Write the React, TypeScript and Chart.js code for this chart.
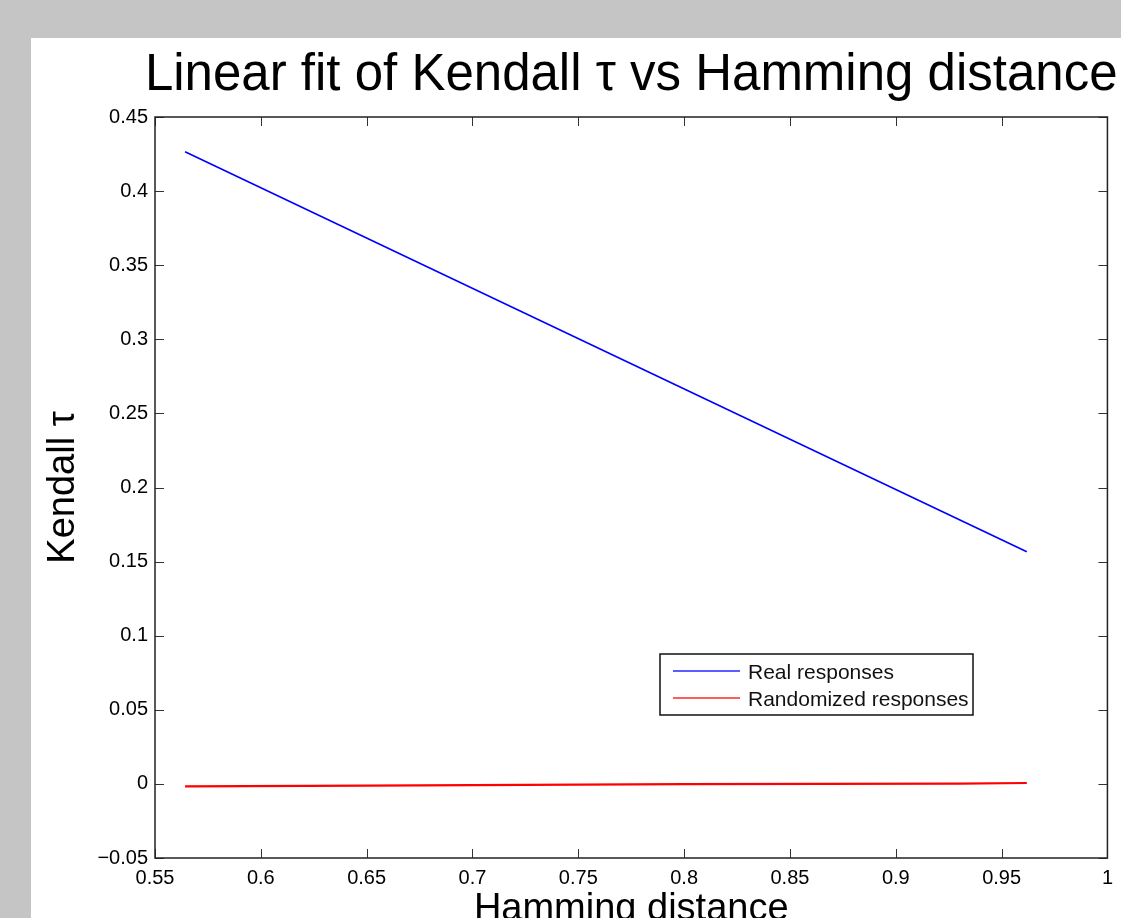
import React, { useEffect, useRef } from "react";
import { Chart, registerables } from "chart.js";

Chart.register(...registerables);

const FONT = "'Liberation Sans', Arial, Helvetica, sans-serif";

const titleText = "Linear fit of Kendall \u03c4 vs Hamming distance";
const xLabel = "Hamming distance";
const yLabel = "Kendall \u03c4";

const xTicks = [0.55, 0.6, 0.65, 0.7, 0.75, 0.8, 0.85, 0.9, 0.95, 1];
const yTicks = [-0.05, 0, 0.05, 0.1, 0.15, 0.2, 0.25, 0.3, 0.35, 0.4, 0.45];

const realX = [0.5642, 0.9619];
const realY = [0.4266, 0.1567];

const randX = [0.5642, 0.65, 0.8, 0.93, 0.9619];
const randY = [-0.0017, -0.0012, -0.0002, 0.0002, 0.0006];

const seriesNames = ["Real responses", "Randomized responses"];
const seriesColors = ["#0000ff", "#ff0000"];
const legendColors = ["#5c5cff", "#ff5c5c"];

function fmt(v: number): string {
  const r = Math.round(v * 100) / 100;
  if (r === 0) return "0";
  const s = String(r);
  return s.replace("-", "\u2212");
}

const decorPlugin = {
  id: "decor",
  afterDraw(chart: any) {
    const ctx = chart.ctx;
    const a = chart.chartArea;
    const xs = chart.scales.x;
    const ys = chart.scales.y;
    ctx.save();
    // inward ticks
    ctx.strokeStyle = "#333";
    ctx.lineWidth = 1;
    const tl = 9;
    xTicks.forEach((v) => {
      const px = Math.round(xs.getPixelForValue(v)) + 0.5;
      ctx.beginPath();
      ctx.moveTo(px, a.bottom);
      ctx.lineTo(px, a.bottom - tl);
      ctx.moveTo(px, a.top);
      ctx.lineTo(px, a.top + tl);
      ctx.stroke();
    });
    yTicks.forEach((v) => {
      const py = Math.round(ys.getPixelForValue(v)) + 0.5;
      ctx.beginPath();
      ctx.moveTo(a.left, py);
      ctx.lineTo(a.left + tl, py);
      ctx.moveTo(a.right, py);
      ctx.lineTo(a.right - tl, py);
      ctx.stroke();
    });
    // box
    ctx.strokeStyle = "#222";
    ctx.lineWidth = 1.5;
    ctx.strokeRect(a.left, a.top, a.right - a.left, a.bottom - a.top);

    // title
    const cx = (a.left + a.right) / 2;
    ctx.fillStyle = "#000";
    ctx.textAlign = "center";
    ctx.textBaseline = "alphabetic";
    ctx.font = `51px ${FONT}`;
    ctx.fillText(titleText, cx, 90);
    // x label
    ctx.font = `38px ${FONT}`;
    ctx.fillText(xLabel, cx, 920);
    // y label
    ctx.save();
    ctx.translate(74, (a.top + a.bottom) / 2);
    ctx.rotate(-Math.PI / 2);
    ctx.fillText(yLabel, 0, 0);
    ctx.restore();

    // legend
    const lx = 660, ly = 654, lw = 313, lh = 61;
    ctx.fillStyle = "#fff";
    ctx.fillRect(lx, ly, lw, lh);
    ctx.strokeStyle = "#111";
    ctx.lineWidth = 1.5;
    ctx.strokeRect(lx, ly, lw, lh);
    ctx.font = `21px ${FONT}`;
    ctx.textAlign = "left";
    ctx.textBaseline = "middle";
    const rows = [673, 700];
    seriesNames.forEach((name, i) => {
      ctx.strokeStyle = legendColors[i];
      ctx.lineWidth = 2;
      ctx.beginPath();
      ctx.moveTo(673, rows[i] - 2);
      ctx.lineTo(740, rows[i] - 2);
      ctx.stroke();
      ctx.fillStyle = "#111";
      ctx.fillText(name, 748, rows[i]);
    });
    ctx.restore();
  },
};

export default function App() {
  const ref = useRef<HTMLCanvasElement | null>(null);
  useEffect(() => {
    if (!ref.current) return;
    const chart = new Chart(ref.current, {
      type: "scatter",
      data: {
        datasets: [
          {
            label: seriesNames[0],
            data: realX.map((x, i) => ({ x, y: realY[i] })),
            showLine: true,
            borderColor: seriesColors[0],
            backgroundColor: seriesColors[0],
            borderWidth: 1.6,
            pointRadius: 0,
          },
          {
            label: seriesNames[1],
            data: randX.map((x, i) => ({ x, y: randY[i] })),
            showLine: true,
            borderColor: seriesColors[1],
            backgroundColor: seriesColors[1],
            borderWidth: 2.2,
            pointRadius: 0,
          },
        ],
      },
      options: {
        animation: false,
        responsive: false,
        maintainAspectRatio: false,
        layout: { padding: { left: 0, top: 117, right: 13, bottom: 0 } },
        plugins: {
          legend: { display: false },
          title: { display: false },
          tooltip: { enabled: false },
        },
        scales: {
          x: {
            type: "linear",
            min: 0.55,
            max: 1,
            afterFit: (s: any) => {
              s.height = 60;
            },
            afterBuildTicks: (s: any) => {
              s.ticks = xTicks.map((v) => ({ value: v }));
            },
            grid: { display: false, drawTicks: false },
            border: { display: false },
            ticks: {
              padding: 8,
              color: "#000",
              font: { family: FONT, size: 20 },
              maxRotation: 0,
              autoSkip: false,
              callback: (v: any) => fmt(Number(v)),
            },
          },
          y: {
            type: "linear",
            min: -0.05,
            max: 0.45,
            afterFit: (s: any) => {
              s.width = 155;
            },
            afterBuildTicks: (s: any) => {
              s.ticks = yTicks.map((v) => ({ value: v }));
            },
            grid: { display: false, drawTicks: false },
            border: { display: false },
            ticks: {
              padding: 7,
              color: "#000",
              font: { family: FONT, size: 20 },
              autoSkip: false,
              callback: (v: any) => fmt(Number(v)),
            },
          },
        },
      },
      plugins: [decorPlugin],
    });
    return () => chart.destroy();
  }, []);

  return (
    <div
      style={{
        position: "fixed",
        left: 0,
        top: 0,
        width: 1121,
        height: 918,
        background: "#c4c5c4",
        overflow: "hidden",
      }}
    >
      <div
        style={{
          position: "absolute",
          left: 31,
          top: 38,
          width: 1090,
          height: 880,
          background: "#ffffff",
        }}
      />
      <canvas
        ref={ref}
        width={1121}
        height={918}
        style={{ position: "absolute", left: 0, top: 0, width: 1121, height: 918 }}
      />
    </div>
  );
}
